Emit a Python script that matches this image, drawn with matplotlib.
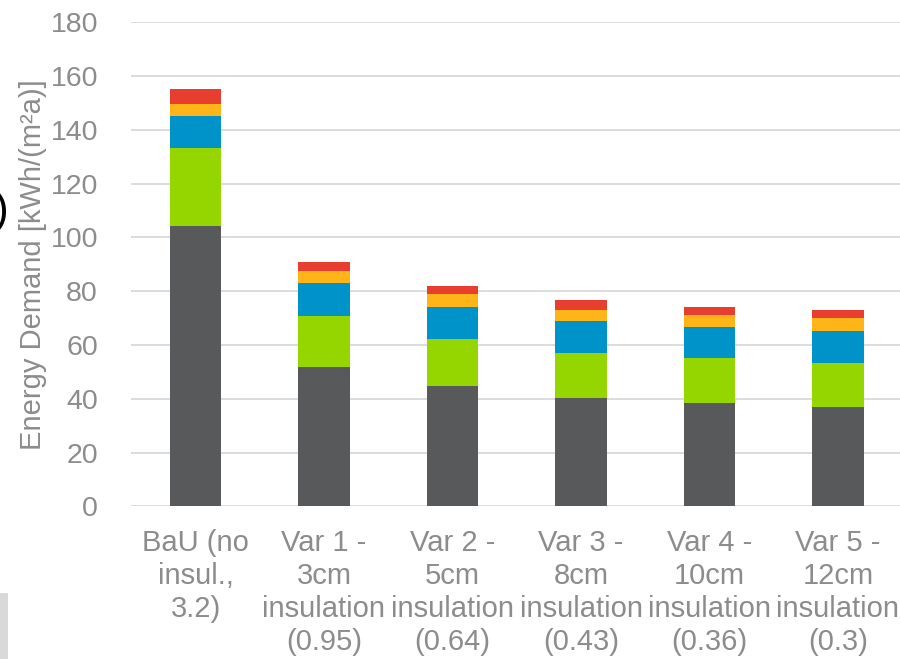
import matplotlib
matplotlib.use("Agg")
import matplotlib.pyplot as plt
import numpy as np
from matplotlib.patches import Rectangle

plt.rcParams['font.family'] = ['Liberation Sans', 'DejaVu Sans']

categories = [
    "BaU (no\ninsul.,\n3.2)",
    "Var 1 -\n3cm\ninsulation\n(0.95)",
    "Var 2 -\n5cm\ninsulation\n(0.64)",
    "Var 3 -\n8cm\ninsulation\n(0.43)",
    "Var 4 -\n10cm\ninsulation\n(0.36)",
    "Var 5 -\n12cm\ninsulation\n(0.3)",
]

# stacked components, bottom to top [kWh/(m²a)]
part_1 = [104.1, 51.8, 44.6, 40.1, 38.3, 36.9]
part_2 = [29.0, 18.9, 17.6, 16.8, 16.7, 16.4]
part_3 = [12.1, 12.2, 12.1, 11.9, 11.7, 12.0]
part_4 = [4.5, 4.5, 4.5, 4.2, 4.4, 4.6]
part_5 = [5.4, 3.5, 3.2, 3.6, 3.2, 3.2]

y_ticks = [0, 20, 40, 60, 80, 100, 120, 140, 160, 180]

parts = [part_1, part_2, part_3, part_4, part_5]
colors = ["#58595b", "#96d600", "#0093c9", "#ffb517", "#e83e2f"]
text_gray = "#8c8c8c"

W, H = 900, 659
ax_left, ax_width = 131.25 / W, 771 / W
fig = plt.figure(figsize=(W / 100, H / 100), dpi=100)
ax = fig.add_axes([ax_left, (H - 506.3) / H, ax_width, (506.3 - 22.3) / H])

x = np.arange(len(categories))
bottom = np.zeros(len(categories))
for vals, c in zip(parts, colors):
    vals = np.asarray(vals)
    ax.bar(x, vals, width=0.4, bottom=bottom, color=c, zorder=3)
    bottom += vals

ax.set_xlim(-0.5, len(categories) - 0.5)
ax.set_ylim(0, 180)
ax.set_yticks(y_ticks)
ax.yaxis.grid(True, color="#d9d9d9", linewidth=1.3, zorder=0)
ax.set_axisbelow(True)
for s in ax.spines.values():
    s.set_visible(False)

ax.set_xticks(x)
ax.set_xticklabels(categories, fontsize=21, color=text_gray, linespacing=1.22)
ax.tick_params(axis='x', length=0, pad=16.5)
ax.tick_params(axis='y', length=0, pad=24, labelsize=20.5, labelcolor=text_gray)

ax.set_ylabel("Energy Demand [kWh/(m²a)]", fontsize=21, color=text_gray)
ax.yaxis.set_label_coords((33 / W - ax_left) / ax_width, 0.5)
ax.yaxis.label.set_va('center')

fig.text(8 / W, 1 - 211 / H, ")", ha='right', va='center', fontsize=32, color='black')
fig.patches.append(Rectangle((0, 0), 8 / W, 66 / H, transform=fig.transFigure,
                             facecolor="#d9d9d9", edgecolor='none'))

fig.savefig("out.png", dpi=100)
